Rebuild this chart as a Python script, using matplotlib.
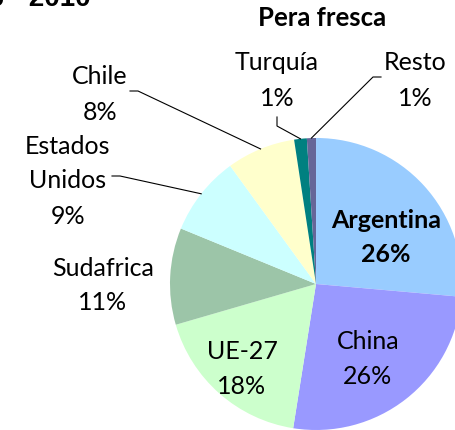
import numpy as np
import matplotlib
matplotlib.use("Agg")
import matplotlib.pyplot as plt

plt.rcParams['font.family'] = ['Lato', 'DejaVu Sans']

# Data
categories = ["Argentina", "China", "UE-27", "Sudafrica", "Estados Unidos", "Chile", "Turquía", "Resto"]
values = [26.4, 26.1, 18.0, 10.7, 8.8, 7.6, 1.4, 1.0]
pct_labels = ["26%", "26%", "18%", "11%", "9%", "8%", "1%", "1%"]
colors = ["#99CCFF", "#9999FF", "#CCFFCC", "#9CC5A8", "#CCFFFF", "#FFFFCC", "#008080", "#666699"]

W, H = 456, 431
fig = plt.figure(figsize=(W / 100, H / 100), dpi=100)
ax = fig.add_axes([0, 0, 1, 1])

cx, cy, R = 316, H - 285, 146
explode = [0.048, 0, 0, 0, 0, 0, 0, 0]
wedges, _ = ax.pie(values, colors=colors, startangle=90, counterclock=False,
                   explode=explode, center=(cx, cy), radius=R,
                   wedgeprops=dict(linewidth=0))
ax.set_xlim(0, W)
ax.set_ylim(0, H)
ax.set_aspect('equal')
ax.axis('off')

FS = 18

def py(y):
    return H - y

# label layout: (lines, x, y_first, bold)
layout = {
    "Argentina": (["Argentina"], 386, 220, True),
    "China": (["China"], 368, 342, False),
    "UE-27": (["UE-27"], 242, 352, False),
    "Sudafrica": (["Sudafrica"], 103, 268, False),
    "Estados Unidos": (["Estados", "Unidos"], 68, 146, False),
    "Chile": (["Chile"], 100, 77, False),
    "Turquía": (["Turquía"], 277, 63, False),
    "Resto": (["Resto"], 415, 63, False),
}
step = 35
for cat, pct in zip(categories, pct_labels):
    lines, x, y0, bold = layout[cat]
    for i, ln in enumerate(lines + [pct]):
        ax.text(x, py(y0 + i * step), ln, ha='center', va='center', fontsize=FS,
                fontweight='bold' if bold else 'normal', color='black')

# leader lines: from label elbow to wedge rim at mid angle
leaders = {
    "Estados Unidos": [(112, 177), (120, 177)],
    "Chile": [(130, 92), (138, 92)],
    "Turquía": [(277, 118), (277, 127)],
    "Resto": [(381, 78), (373, 78)],
}
for w, cat in zip(wedges, categories):
    if cat in leaders:
        mid = np.deg2rad((w.theta1 + w.theta2) / 2)
        ex, ey = cx + R * np.cos(mid), cy + R * np.sin(mid)
        pts = leaders[cat]
        xs = [p[0] for p in pts] + [ex]
        ys = [py(p[1]) for p in pts] + [ey]
        ax.plot(xs, ys, color='black', linewidth=0.8)

ax.text(322, py(18), "Pera fresca", ha='center', va='center', fontsize=18.5, fontweight='bold')
ax.text(91, py(6.2), "2006 - 2010", ha='right', va='baseline', fontsize=20,
        fontweight='bold', family=['Liberation Sans', 'DejaVu Sans'])

fig.savefig("out.png", dpi=100)
